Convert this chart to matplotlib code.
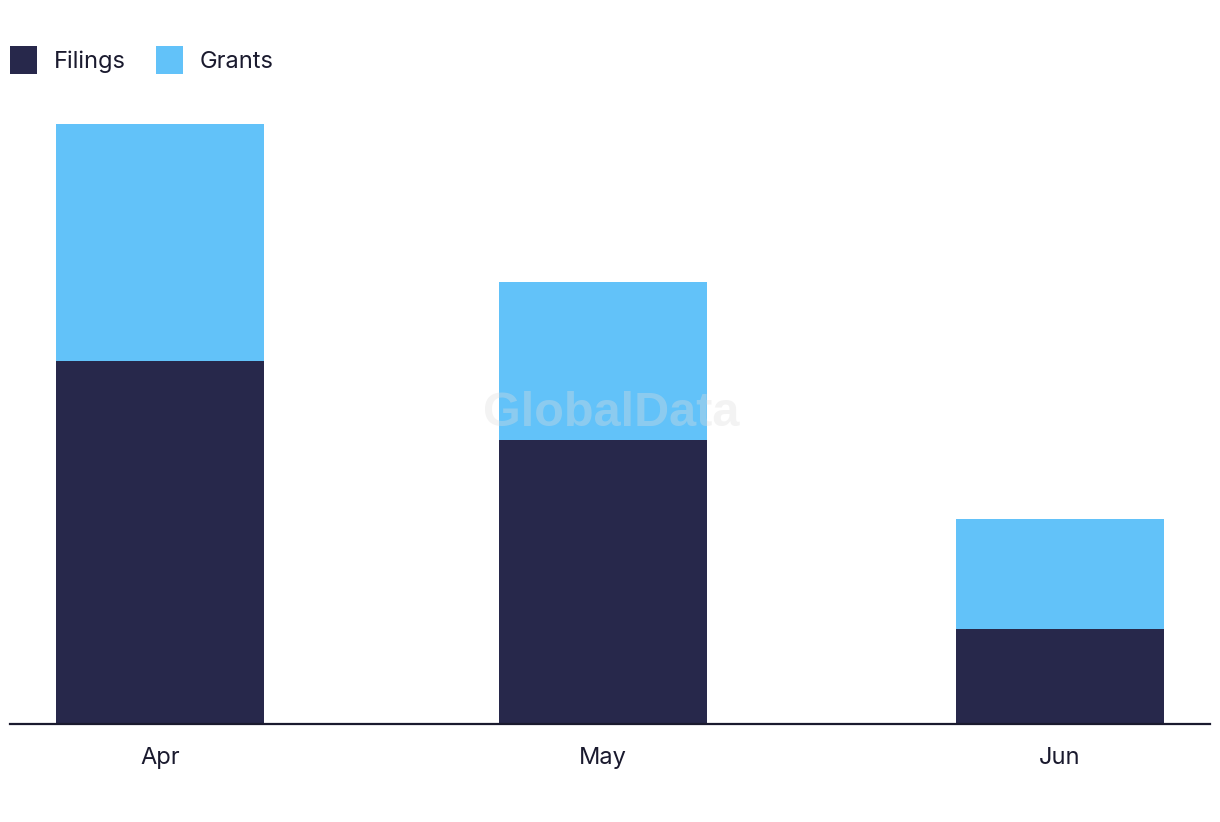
import pandas as pd
import matplotlib
matplotlib.use('Agg')
import matplotlib.pyplot as plt

#данные
months = pd.to_datetime(['2023-04-01', '2023-05-01', '2023-06-01'])
month_labels = ['Apr', 'May', 'Jun']
filings = [23, 18, 6]
grants = [15, 10, 7]

c_filings = '#27284b'
c_grants = '#62c2f9'

plt.rcParams['font.family'] = ['Inter', 'DejaVu Sans']

fig = plt.figure(figsize=(12.2, 8.22), dpi=100)
ax = fig.add_axes([10/1220, 98.4/822, 1200/1220, 630/822])

w = pd.Timedelta(days=14.1)
ax.bar(months, filings, width=w, color=c_filings, label='Filings', zorder=2)
ax.bar(months, grants, width=w, bottom=filings, color=c_grants, label='Grants', zorder=2)

ax.set_xlim(months[0] - pd.Timedelta(days=10.17), months[-1] + pd.Timedelta(days=10.17))
ax.set_ylim(0, 39.95)

ax.set_xticks(months)
ax.set_xticklabels(month_labels, fontsize=17, color='#1a1a2e')
ax.tick_params(axis='x', length=0, pad=16.5)
ax.set_yticks([])
for s in ['top', 'right', 'left']:
    ax.spines[s].set_visible(False)
ax.spines['bottom'].set_linewidth(1.6)
ax.spines['bottom'].set_color('#1a1a2e')
ax.spines['bottom'].set_zorder(3)

#водяной знак
fig.text(611/1220, 1 - 413/822, 'GlobalData', fontsize=35, fontweight='bold',
         family='Liberation Sans', color='#dddddd', alpha=0.35,
         ha='center', va='center', zorder=5)

fig.legend(loc='center left', bbox_to_anchor=(10/1220, 1 - 60/822), ncol=2,
           frameon=False, fontsize=17, handlelength=1.15, handleheight=1.4,
           handletextpad=0.7, columnspacing=1.3, borderpad=0, borderaxespad=0,
           labelcolor='#1a1a2e')

fig.savefig('out.png', dpi=100)
